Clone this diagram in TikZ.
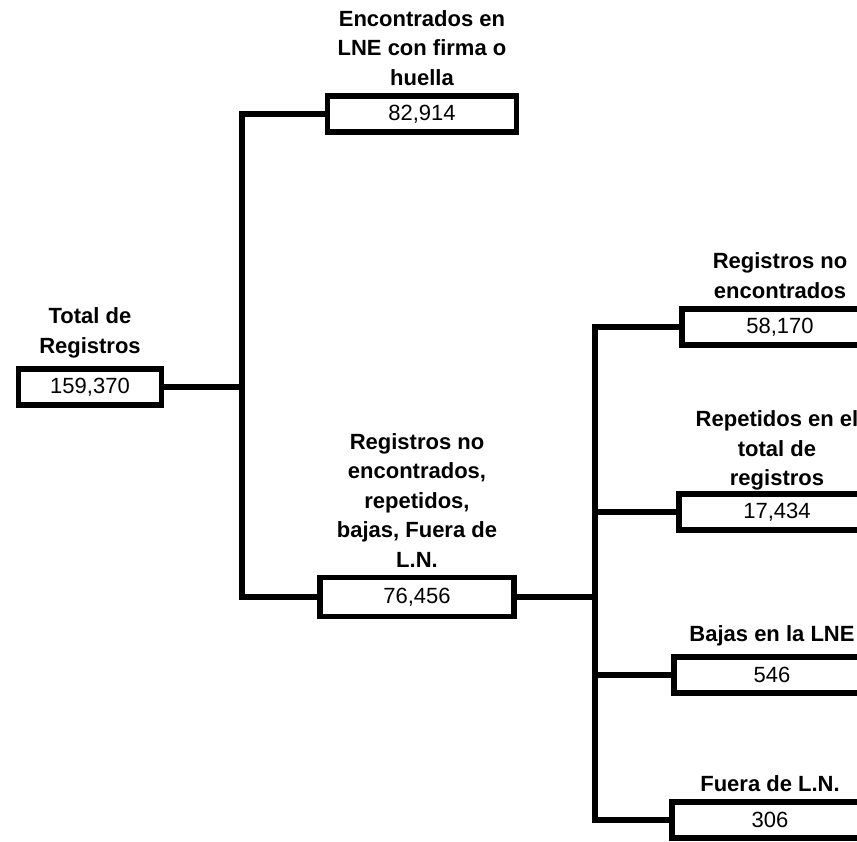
\documentclass[tikz,border=0pt]{standalone}
\usepackage{fontspec}
\setmainfont{Liberation Sans}
\usetikzlibrary{positioning}

\begin{document}
\begin{tikzpicture}[x=1pt,y=-1pt,line width=5.5pt,node distance=5pt,
	caja/.style={draw,minimum width=196pt,minimum height=36pt,inner sep=0pt,font=\fontsize{22}{26}\selectfont},
	titulo/.style={align=center,inner sep=0pt,text depth=0pt,font=\bfseries\fontsize{22}{29.5}\selectfont}]
	\useasboundingbox (0,0) rectangle (857,842);
	\clip (0,0) rectangle (857,842);
	% cajas
	\node[caja,minimum width=143pt] (total) at (90,387) {159,370};
	\node[caja,minimum width=189pt] (enc) at (422,114) {82,914};
	\node[caja,minimum width=194pt,minimum height=39pt] (noenc) at (417,597) {76,456};
	\node[caja] (regno) at (780,327) {58,170};
	\node[caja] (repet) at (777,512) {17,434};
	\node[caja] (bajas) at (772,675) {546};
	\node[caja] (fuera) at (770,820) {306};
	% titulos
	\node[titulo,above=10pt of total] (ttotal) {Total de\\Registros};
	\node[titulo,above=of enc] (tenc) {Encontrados en\\LNE con firma o\\huella};
	\node[titulo,above=of noenc] (tnoenc) {Registros no\\encontrados,\\repetidos,\\bajas, Fuera de\\L.N.};
	\node[titulo,above=of regno] (tregno) {Registros no\\encontrados};
	\node[titulo,above=3pt of repet] (trepet) {Repetidos en el\\total de\\registros};
	\node[titulo,above=10pt of bajas] (tbajas) {Bajas en la LNE};
	\node[titulo,above=of fuera] (tfuera) {Fuera de L.N.};
	% conectores
	\coordinate (nudoA) at (242,387);
	\coordinate (nudoB) at (595,597);
	\draw (enc.west) -| (nudoA) |- (noenc.west)
		(total.east) -- (nudoA)
		(noenc.east) -- (nudoB)
		(regno.west) -| (nudoB) |- (fuera.west)
		(repet.west) -- (repet.west -| nudoB)
		(bajas.west) -- (bajas.west -| nudoB);
\end{tikzpicture}
\end{document}
